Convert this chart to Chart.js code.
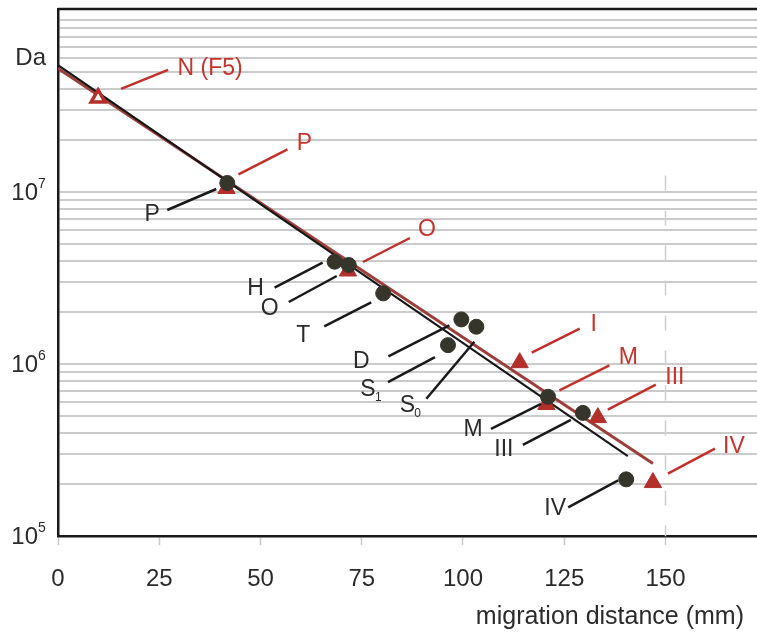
<!DOCTYPE html>
<html lang="en">
<head>
<meta charset="UTF-8">
<title>Molecular mass vs migration distance</title>
<script src="https://cdn.jsdelivr.net/npm/chart.js"></script>
<style>
  html, body { margin: 0; padding: 0; background: #fff; }
  canvas { display: block; }
</style>
</head>
<body>
<canvas id="massChart" width="757" height="633"></canvas>
<script>
// black series (filled circles)
const blackNames = ["P", "H", "O", "T", "D", "S1", "S0", "M", "III", "IV"];
const blackDist = [41.8, 68.3, 71.8, 80.3, 99.6, 96.3, 103.3, 121.0, 129.6, 140.3];
const blackMass = [1.13e7, 3.94e6, 3.77e6, 2.58e6, 1.82e6, 1.29e6, 1.65e6, 6.46e5, 5.21e5, 2.14e5];

// red series (triangles), first one is the open triangle
const redNames = ["N (F5)", "P", "O", "I", "M", "III", "IV"];
const redDist = [9.9, 41.6, 71.6, 114.0, 120.6, 133.3, 146.9];
const redMass = [3.53e7, 1.05e7, 3.48e6, 1.02e6, 5.83e5, 4.89e5, 2.05e5];

// fitted lines, start and end
const blackFitDist = [0, 140.7];
const blackFitMass = [5.47e7, 2.92e5];
const redFitDist = [0, 146.9];
const redFitMass = [5.23e7, 2.65e5];

const xTicks = [0, 25, 50, 75, 100, 125, 150];
const yDecades = [1e5, 1e6, 1e7];

// label placement in pixels from the marker: leader x1,y1,x2,y2 then text centre x,y
const blackLabelPos = [
    [-60, 27, -11, 6, -75, 32],
    [-60, 26, -12, 1, -79, 27],
    [-60, 37, -12, 11, -79, 44],
    [-59, 33, -12, 9, -80, 42],
    [-73, 37, -12, 6, -100, 42],
    [-60, 37, -13, 12, -80, 45],
    [-50, 72, -2, 15, -69, 79],
    [-57, 32, -7, 7, -75, 33],
    [-60, 32, -12, 7, -79, 37],
    [-58, 28, -8, 1, -71, 29]
];
const redLabelPos = [
    [23, -9, 70, -28, 112, -29],
    [12, -14, 61, -39, 78, -45],
    [15, -9, 62, -33, 79, -41],
    [12, -10, 60, -34, 74, -38],
    [13, -14, 63, -39, 82, -47],
    [10, -8, 58, -33, 77, -40],
    [15, -9, 62, -34, 81, -36]
];

const FONT = "'Liberation Sans', Arial, sans-serif";
const RED_TEXT = "#c8322c";
const RED_MARK = "#b3302a";
const DARK = "#2b2b2b";

// log gridlines at 1..9 x 10^n
const gridValues = [];
for (let e = 5; e <= 7; e++) {
    for (let m = 1; m <= 9; m++) gridValues.push(m * Math.pow(10, e));
}
gridValues.push(1e8);

function pts(xs, ys) {
    return xs.map((v, i) => ({ x: v, y: ys[i] }));
}

function drawName(ctx, name, cx, cy) {
    const sub = name.match(/^S(\d)$/);
    if (sub) {
        ctx.font = "23px " + FONT;
        ctx.textAlign = "center";
        ctx.fillText("S", cx, cy);
        ctx.font = "12px " + FONT;
        ctx.textAlign = "left";
        ctx.fillText(sub[1], cx + 7, cy + 8);
    } else {
        ctx.font = "23px " + FONT;
        ctx.textAlign = "center";
        ctx.fillText(name, cx, cy);
    }
}

const decor = {
    id: "decor",
    beforeDatasetsDraw(chart) {
        const { ctx, chartArea: a, scales: { x, y } } = chart;
        ctx.save();
        ctx.strokeStyle = "#cfcfcf";
        ctx.lineWidth = 1.5;
        ctx.setLineDash([15, 20]);
        const gx = Math.round(x.getPixelForValue(150)) + 0.5;
        ctx.beginPath();
        ctx.moveTo(gx, y.getPixelForValue(1.25e7));
        ctx.lineTo(gx, a.bottom);
        ctx.stroke();
        ctx.restore();
    },
    afterDatasetsDraw(chart) {
        const { ctx, chartArea: a, scales: { x, y } } = chart;
        ctx.save();

        // frame top
        ctx.strokeStyle = "#1a1a1a";
        ctx.lineWidth = 2.5;
        ctx.beginPath();
        ctx.moveTo(a.left, a.top);
        ctx.lineTo(a.right, a.top);
        ctx.stroke();

        ctx.textBaseline = "middle";
        ctx.lineCap = "butt";

        // black labels
        blackNames.forEach((name, i) => {
            const px = x.getPixelForValue(blackDist[i]);
            const py = y.getPixelForValue(blackMass[i]);
            const p = blackLabelPos[i];
            ctx.strokeStyle = "#1a1a1a";
            ctx.lineWidth = 2.5;
            ctx.beginPath();
            ctx.moveTo(px + p[0], py + p[1]);
            ctx.lineTo(px + p[2], py + p[3]);
            ctx.stroke();
            ctx.fillStyle = DARK;
            drawName(ctx, name, px + p[4], py + p[5]);
        });

        // red labels
        redNames.forEach((name, i) => {
            const px = x.getPixelForValue(redDist[i]);
            const py = y.getPixelForValue(redMass[i]);
            const p = redLabelPos[i];
            ctx.strokeStyle = "#c33029";
            ctx.lineWidth = 2.5;
            ctx.beginPath();
            ctx.moveTo(px + p[0], py + p[1]);
            ctx.lineTo(px + p[2], py + p[3]);
            ctx.stroke();
            ctx.fillStyle = RED_TEXT;
            drawName(ctx, name, px + p[4], py + p[5]);
        });

        // y decade labels 10^n
        ctx.fillStyle = DARK;
        yDecades.forEach(v => {
            const py = y.getPixelForValue(v);
            ctx.font = "24px " + FONT;
            ctx.textAlign = "right";
            ctx.fillText("10", 38, py + 1);
            ctx.font = "14px " + FONT;
            ctx.textAlign = "left";
            ctx.fillText(String(Math.round(Math.log10(v))), 38, py - 8);
        });

        // axis names
        ctx.font = "24px " + FONT;
        ctx.textAlign = "right";
        ctx.fillText("Da", 46, 58);
        ctx.font = "25px " + FONT;
        ctx.fillText("migration distance (mm)", 744, 617);
        ctx.restore();
    }
};

new Chart(document.getElementById("massChart"), {
    type: "scatter",
    data: {
        datasets: [
            {
                data: pts(blackDist, blackMass),
                backgroundColor: "#35352b",
                borderColor: "#35352b",
                borderWidth: 1,
                pointRadius: 7.5,
                order: 0
            },
            {
                data: pts(redDist, redMass),
                pointStyle: "triangle",
                backgroundColor: redNames.map((n, i) => i === 0 ? "#ffffff" : RED_MARK),
                borderColor: RED_MARK,
                borderWidth: redNames.map((n, i) => i === 0 ? 3.5 : 1),
                pointRadius: redNames.map((n, i) => i === 0 ? 8 : 10),
                order: 1
            },
            {
                data: pts(blackFitDist, blackFitMass),
                showLine: true,
                borderColor: "#161616",
                borderWidth: 2,
                pointRadius: 0,
                order: 2
            },
            {
                data: pts(redFitDist, redFitMass),
                showLine: true,
                borderColor: "#9c3f3a",
                borderWidth: 3,
                pointRadius: 0,
                order: 3
            }
        ]
    },
    options: {
        responsive: false,
        animation: false,
        layout: { autoPadding: false, padding: { left: 58, top: 9, right: 0, bottom: 19 } },
        plugins: {
            legend: { display: false },
            tooltip: { enabled: false }
        },
        scales: {
            x: {
                type: "linear",
                min: 0,
                max: 172.6,
                afterBuildTicks: axis => { axis.ticks = xTicks.map(v => ({ value: v })); },
                ticks: {
                    font: { size: 24, family: FONT },
                    color: DARK,
                    padding: 20,
                    maxRotation: 0
                },
                grid: {
                    drawOnChartArea: false,
                    drawTicks: true,
                    tickLength: 9,
                    tickColor: "#c8c8c8",
                    tickWidth: 1.5
                },
                border: { color: "#1a1a1a", width: 2.5 }
            },
            y: {
                type: "logarithmic",
                min: 1e5,
                max: 1.16e8,
                afterBuildTicks: axis => { axis.ticks = gridValues.map(v => ({ value: v })); },
                ticks: { display: false },
                grid: {
                    color: "#cbcbcb",
                    lineWidth: 2,
                    drawTicks: false
                },
                border: { color: "#1a1a1a", width: 2.5 }
            }
        }
    },
    plugins: [decor]
});
</script>
</body>
</html>
